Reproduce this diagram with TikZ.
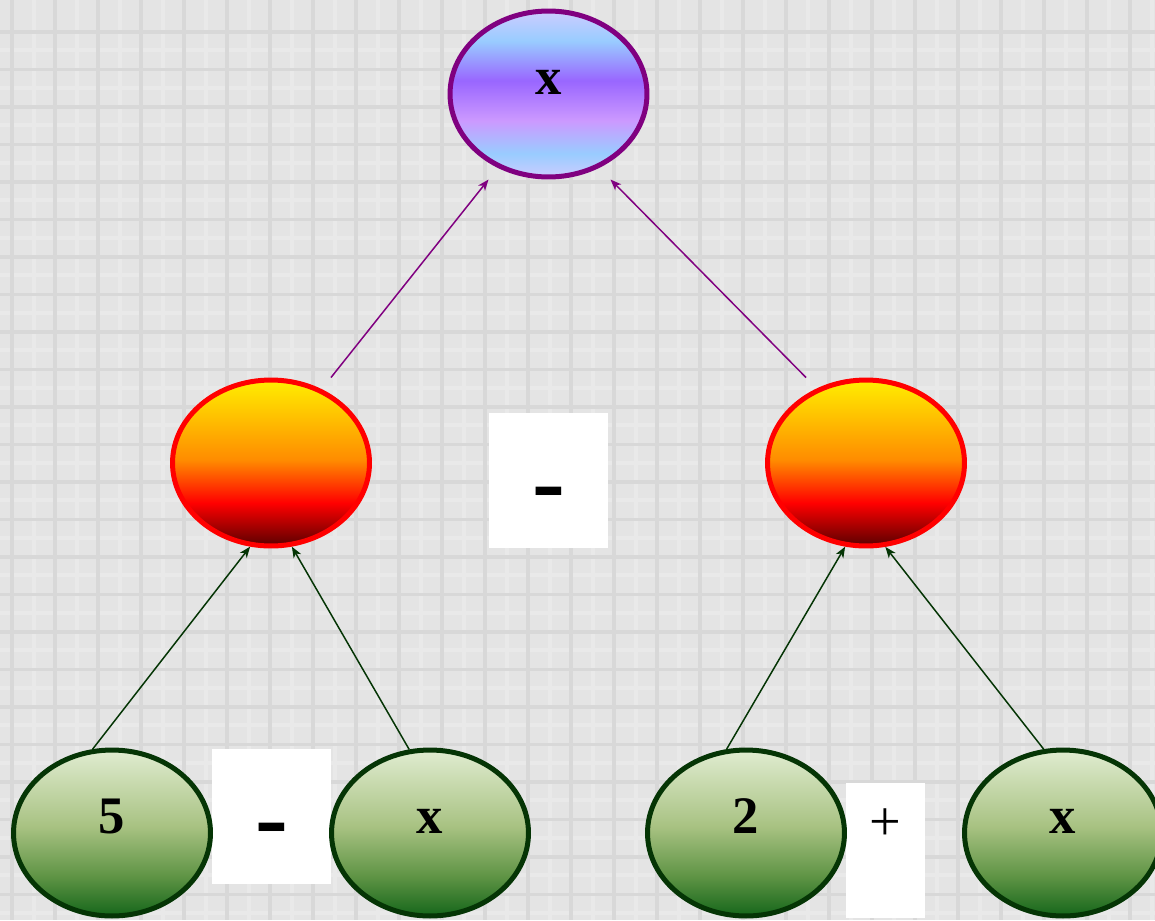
\documentclass[tikz,border=0pt]{standalone}
\usepackage{fontspec}
\setmainfont{Liberation Serif}
\usetikzlibrary{shapes.geometric,arrows.meta}

\definecolor{bgGray}{HTML}{E4E4E4}
\definecolor{plaidDark}{HTML}{D8D8D8}
\definecolor{plaidLight}{HTML}{E9E9E9}
\definecolor{rootLine}{HTML}{800080}
\definecolor{midLine}{HTML}{FF0000}
\definecolor{leafLine}{HTML}{053505}
% root colours
\definecolor{lav}{HTML}{CCCCFF}
\definecolor{skyb}{HTML}{99CCFF}
\definecolor{violetx}{HTML}{9966FF}
\definecolor{lilac}{HTML}{CC99FF}
% middle colours
\definecolor{yel}{HTML}{FFEE00}
\definecolor{ora}{HTML}{FF8C00}
\definecolor{rd}{HTML}{FF0000}
\definecolor{drd}{HTML}{5A0000}
% leaf colours
\definecolor{gA}{HTML}{E0ECD0}
\definecolor{gB}{HTML}{A8C282}
\definecolor{gC}{HTML}{5F9445}
\definecolor{gD}{HTML}{15661A}

\pgfdeclareverticalshading{rootShade}{100bp}{color(0bp)=(lav); color(25bp)=(lav);
  color(32bp)=(skyb); color(42bp)=(lilac); color(54bp)=(violetx);
  color(66bp)=(skyb); color(75bp)=(lav); color(100bp)=(lav)}
\pgfdeclareverticalshading{midShade}{100bp}{color(0bp)=(drd); color(25bp)=(drd);
  color(38bp)=(rd); color(51bp)=(ora); color(75bp)=(yel); color(100bp)=(yel)}
\pgfdeclareverticalshading{leafShade}{100bp}{color(0bp)=(gD); color(25bp)=(gD);
  color(37bp)=(gC); color(52bp)=(gB); color(75bp)=(gA); color(100bp)=(gA)}

\begin{document}
\begin{tikzpicture}[x=0.02cm, y=-0.02cm,
    blob/.style={ellipse, line width=0.1cm, shade, minimum width=3.94cm, minimum height=3.32cm,
      inner sep=0pt, text height=0.5cm, text depth=0.5cm, font=\bfseries\fontsize{30}{30}\selectfont},
    root/.style={blob, draw=rootLine, shading=rootShade},
    mid/.style={blob, draw=midLine, shading=midShade},
    leaf/.style={blob, draw=leafLine, shading=leafShade},
    opbox/.style={fill=white, inner sep=0pt, minimum width=2.38cm, minimum height=2.7cm,
      text height=1.36cm, text depth=0pt, font=\bfseries\fontsize{56}{56}\selectfont},
    plusbox/.style={fill=white, inner sep=0pt, minimum width=1.58cm, minimum height=2.7cm,
      text height=0pt, text depth=0.42cm, font=\fontsize{32}{32}\selectfont},
    upArrow/.style={line width=0.85pt, -{Stealth[length=2.2mm,width=1.7mm,inset=0.6mm]}}]
    \useasboundingbox (0,0) rectangle (1155,920);

    % background
    \fill[bgGray] (0,0) rectangle (1155,920);
    \foreach \gx in {34,77,...,1155}
        \draw[plaidLight, line width=0.08cm] (\gx,0) -- (\gx,920);
    \foreach \gy in {50,87.5,...,920}
        \draw[plaidLight, line width=0.08cm] (0,\gy) -- (1155,\gy);
    \foreach \gx in {12,55,...,1155}
        \draw[plaidDark, line width=0.07cm] (\gx,0) -- (\gx,920);
    \foreach \gy in {32,69.5,...,920}
        \draw[plaidDark, line width=0.07cm] (0,\gy) -- (1155,\gy);

    % operators
    \node[opbox] (opTop) at (548.5,480.5) {-};
    \node[opbox] (opLeft) at (271.5,816.5) {-};
    \node[plusbox] (opRight) at (885.5,850.5) {+};

    % tree
    \node[root] (prod) at (548.5,94) {x};
    \node[mid] (diffL) at (271,463) {};
    \node[mid] (diffR) at (866,463) {};
    \node[leaf] (five) at (112,833) {5};
    \node[leaf] (xLeft) at (430,833) {x};
    \node[leaf] (two) at (746,833) {2};
    \node[leaf] (xRight) at (1063,833) {x};

    \draw[upArrow, rootLine] ([xshift=1.2cm]diffL.north) -- ([xshift=-1.2cm]prod.south);
    \draw[upArrow, rootLine] ([xshift=-1.2cm]diffR.north) -- ([xshift=1.24cm]prod.south);
    \draw[upArrow, leafLine] (five.103) -- (diffL.256);
    \draw[upArrow, leafLine] (xLeft.104) -- (diffL.284);
    \draw[upArrow, leafLine] (two.103) -- (diffR.256);
    \draw[upArrow, leafLine] (xRight.103) -- (diffR.283);
\end{tikzpicture}
\end{document}
